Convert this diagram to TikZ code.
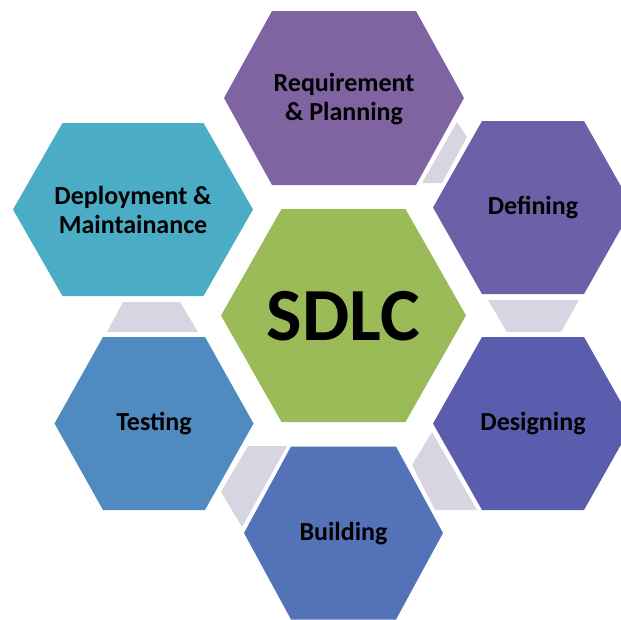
\documentclass[tikz,border=0pt]{standalone}
\usepackage{fontspec}
\setmainfont{Carlito}
\definecolor{creq}{HTML}{8064A2}
\definecolor{cdef}{HTML}{6C60A8}
\definecolor{cdes}{HTML}{5A5DAD}
\definecolor{cbld}{HTML}{5472B8}
\definecolor{ctst}{HTML}{4F8BC0}
\definecolor{cdep}{HTML}{4BACC6}
\definecolor{csdlc}{HTML}{9BBB59}
\definecolor{clink}{HTML}{D8D5E3}
\newcommand{\hexshape}[6]{%
  \fill[#6] ({#1-#3},#2) -- ({#1-#4},{#2-#5}) -- ({#1+#4},{#2-#5}) -- ({#1+#3},#2)
    -- ({#1+#4},{#2+#5}) -- ({#1-#4},{#2+#5}) -- cycle;}
\tikzset{
  lbl/.style={font=\fontsize{26}{29}\selectfont\bfseries, align=center, text=black},
  big/.style={font=\fontsize{75}{80}\selectfont\bfseries, text=black},
  link/.style={fill=clink}
}
\begin{document}
\begin{tikzpicture}[x=1pt,y=-1pt]
\useasboundingbox (0,0) rectangle (621,619);
% connectors
\fill[link] (422,183) -- (442,183) -- (467,137) -- (457,122) -- cycle;
\fill[link] (488,300) -- (579,300) -- (561,332) -- (507,332) -- cycle;
\fill[link] (432,432) -- (412,465) -- (435,510) -- (477,510) -- cycle;
\fill[link] (248,446) -- (287,446) -- (242,527) -- (221,492) -- cycle;
\fill[link] (123,302) -- (180,302) -- (198,332) -- (107,332) -- cycle;
% hexagons
\hexshape{344}{98}{120}{72}{87}{creq}
\hexshape{533}{207.5}{100}{51}{86.5}{cdef}
\hexshape{533}{423.5}{100}{51}{86.5}{cdes}
\hexshape{343.5}{533}{99.5}{52.5}{86.5}{cbld}
\hexshape{154}{423.5}{99.5}{51}{86.5}{ctst}
\hexshape{133}{209.5}{120}{70.5}{86.5}{cdep}
\hexshape{343.5}{315.5}{122.5}{62}{106.5}{csdlc}
% labels
\node[lbl] (req) at (344,99) {Requirement\\\& Planning};
\node[lbl] (def) at (533,208) {Defining};
\node[lbl] (des) at (533,424) {Designing};
\node[lbl] (bld) at (343.5,533.5) {Building};
\node[lbl] (tst) at (154,424) {Testing};
\node[lbl] (dep) at (133,210) {Deployment \&\\Maintainance};
\node[big] (sdlc) at (343.5,316) {SDLC};
\end{tikzpicture}
\end{document}
